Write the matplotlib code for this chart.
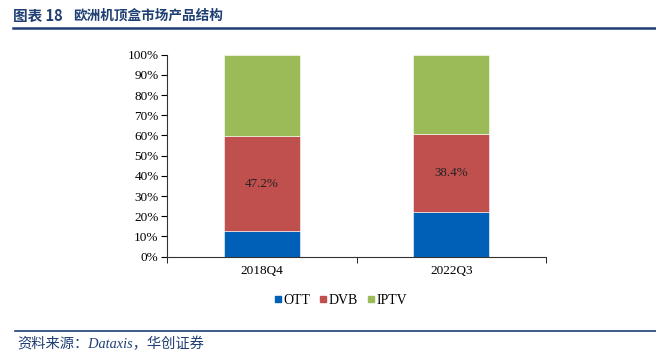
import matplotlib.pyplot as plt
from matplotlib.lines import Line2D

# data (percent of market)
periods = ["2018Q4", "2022Q3"]
ott = [12.6, 22.1]
dvb = [47.2, 38.4]
iptv = [40.2, 39.5]
dvb_labels = ["47.2%", "38.4%"]

series_names = ["OTT", "DVB", "IPTV"]
colors = ["#0060B8", "#C0504D", "#9BBB59"]

serif = ["Liberation Serif", "Noto Sans CJK SC"]
cjk = ["Noto Sans CJK SC", "DejaVu Sans"]
navy = "#1F3F73"

fig = plt.figure(figsize=(6.56, 3.56), dpi=100)
ax = fig.add_axes([0.2546, 0.279, 0.5777, 0.5674])

x = range(len(periods))
w = 0.4
bottoms2 = [a + b for a, b in zip(ott, dvb)]
ax.bar(x, ott, w, color=colors[0], edgecolor="white", linewidth=0.4, label=series_names[0])
ax.bar(x, dvb, w, bottom=ott, color=colors[1], edgecolor="white", linewidth=0.4, label=series_names[1])
ax.bar(x, iptv, w, bottom=bottoms2, color=colors[2], edgecolor="white", linewidth=0.4, label=series_names[2])

for i, lab in enumerate(dvb_labels):
    ax.text(i, ott[i] + dvb[i] / 2, lab, ha="center", va="center",
            fontsize=9.4, family=serif, color="#222222")

ax.set_xlim(-0.5, 1.5)
ax.set_ylim(0, 100)
ax.set_yticks(range(0, 101, 10))
ax.set_yticklabels([f"{v}%" for v in range(0, 101, 10)], family=serif, fontsize=9.5)
ax.set_xticks(list(x))
ax.set_xticklabels(periods, family=serif, fontsize=9.5)
ax.set_xticks([-0.5, 0.5, 1.5], minor=True)
ax.tick_params(axis="x", which="major", length=0, pad=6)
ax.tick_params(axis="x", which="minor", length=4, direction="out")
ax.tick_params(axis="y", length=4, direction="out", pad=2)
for s in ["top", "right"]:
    ax.spines[s].set_visible(False)
for s in ["left", "bottom"]:
    ax.spines[s].set_color("#333333")
    ax.spines[s].set_linewidth(0.8)

handles = [Line2D([], [], marker="s", linestyle="none", markersize=5,
                  markerfacecolor=c, markeredgecolor=c) for c in colors]
fig.legend(handles, series_names, loc="center", bbox_to_anchor=(341 / 656, 1 - 300 / 356),
           ncol=3, frameon=False, handlelength=0.5, handletextpad=0.15, columnspacing=0.7,
           prop={"family": serif, "size": 10})

# header and footer
fig.text(13 / 656, 1 - 16 / 356, "图表 18", family=cjk, fontsize=10.5, fontweight="bold",
         color=navy, va="center")
fig.text(73 / 656, 1 - 16 / 356, "欧洲机顶盒市场产品结构", family=cjk, fontsize=9.8,
         fontweight="bold", color=navy, va="center")
fig.add_artist(Line2D([13 / 656, 1], [1 - 28 / 356] * 2, color=navy, linewidth=1.8))
fig.add_artist(Line2D([15 / 656, 1], [1 - 331 / 356] * 2, color=navy, linewidth=1.2))
fig.text(17 / 656, 1 - 344 / 356, "资料来源：Dataxis，华创证券", family=serif, style="italic",
         fontsize=10.3, color=navy, va="center")

fig.savefig("out.png", dpi=100)
